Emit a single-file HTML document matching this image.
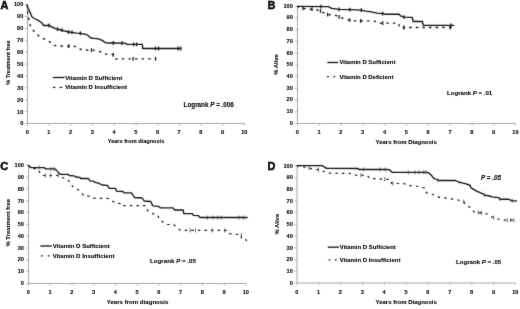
<!DOCTYPE html>
<html><head><meta charset="utf-8"><style>
html,body{margin:0;padding:0;background:#fff;width:520px;height:309px;overflow:hidden}
svg{display:block}
text{font-family:"Liberation Sans",sans-serif;font-weight:bold;fill:#161616}
</style></head><body>
<svg width="520" height="309" viewBox="0 0 520 309">
<defs>
<filter id="bl" x="0" y="0" width="520" height="309" filterUnits="userSpaceOnUse" color-interpolation-filters="sRGB"><feConvolveMatrix order="3" kernelMatrix="0.0113 0.0838 0.0113 0.0838 0.6193 0.0838 0.0113 0.0838 0.0113" edgeMode="duplicate"/></filter>
<filter id="tx" x="0" y="0" width="520" height="309" filterUnits="userSpaceOnUse" color-interpolation-filters="sRGB"><feConvolveMatrix order="3" kernelMatrix="0.0016 0.0371 0.0016 0.0371 0.8450 0.0371 0.0016 0.0371 0.0016" edgeMode="none" preserveAlpha="false"/><feComponentTransfer><feFuncA type="gamma" amplitude="1" exponent="0.75" offset="0"/></feComponentTransfer></filter>
</defs>
<g filter="url(#bl)">
<rect width="520" height="309" fill="#fff"/>
<path d="M27.5 4.1V123.5H244.6" fill="none" stroke="#a6a6a6" stroke-width="1"/>
<path d="M25.0 123.50H27.5" stroke="#a6a6a6" stroke-width="0.8"/>
<path d="M27.50 123.5V125.7" stroke="#a6a6a6" stroke-width="0.8"/>
<path d="M25.0 111.61H27.5" stroke="#a6a6a6" stroke-width="0.8"/>
<path d="M49.21 123.5V125.7" stroke="#a6a6a6" stroke-width="0.8"/>
<path d="M25.0 99.72H27.5" stroke="#a6a6a6" stroke-width="0.8"/>
<path d="M70.92 123.5V125.7" stroke="#a6a6a6" stroke-width="0.8"/>
<path d="M25.0 87.83H27.5" stroke="#a6a6a6" stroke-width="0.8"/>
<path d="M92.63 123.5V125.7" stroke="#a6a6a6" stroke-width="0.8"/>
<path d="M25.0 75.94H27.5" stroke="#a6a6a6" stroke-width="0.8"/>
<path d="M114.34 123.5V125.7" stroke="#a6a6a6" stroke-width="0.8"/>
<path d="M25.0 64.05H27.5" stroke="#a6a6a6" stroke-width="0.8"/>
<path d="M136.05 123.5V125.7" stroke="#a6a6a6" stroke-width="0.8"/>
<path d="M25.0 52.16H27.5" stroke="#a6a6a6" stroke-width="0.8"/>
<path d="M157.76 123.5V125.7" stroke="#a6a6a6" stroke-width="0.8"/>
<path d="M25.0 40.27H27.5" stroke="#a6a6a6" stroke-width="0.8"/>
<path d="M179.47 123.5V125.7" stroke="#a6a6a6" stroke-width="0.8"/>
<path d="M25.0 28.38H27.5" stroke="#a6a6a6" stroke-width="0.8"/>
<path d="M201.18 123.5V125.7" stroke="#a6a6a6" stroke-width="0.8"/>
<path d="M25.0 16.49H27.5" stroke="#a6a6a6" stroke-width="0.8"/>
<path d="M222.89 123.5V125.7" stroke="#a6a6a6" stroke-width="0.8"/>
<path d="M25.0 4.60H27.5" stroke="#a6a6a6" stroke-width="0.8"/>
<path d="M244.60 123.5V125.7" stroke="#a6a6a6" stroke-width="0.8"/>
<path d="M297.5 5.8V123.5H515.7" fill="none" stroke="#a6a6a6" stroke-width="1"/>
<path d="M295.0 123.50H297.5" stroke="#a6a6a6" stroke-width="0.8"/>
<path d="M297.50 123.5V125.7" stroke="#a6a6a6" stroke-width="0.8"/>
<path d="M295.0 111.78H297.5" stroke="#a6a6a6" stroke-width="0.8"/>
<path d="M319.32 123.5V125.7" stroke="#a6a6a6" stroke-width="0.8"/>
<path d="M295.0 100.06H297.5" stroke="#a6a6a6" stroke-width="0.8"/>
<path d="M341.14 123.5V125.7" stroke="#a6a6a6" stroke-width="0.8"/>
<path d="M295.0 88.34H297.5" stroke="#a6a6a6" stroke-width="0.8"/>
<path d="M362.96 123.5V125.7" stroke="#a6a6a6" stroke-width="0.8"/>
<path d="M295.0 76.62H297.5" stroke="#a6a6a6" stroke-width="0.8"/>
<path d="M384.78 123.5V125.7" stroke="#a6a6a6" stroke-width="0.8"/>
<path d="M295.0 64.90H297.5" stroke="#a6a6a6" stroke-width="0.8"/>
<path d="M406.60 123.5V125.7" stroke="#a6a6a6" stroke-width="0.8"/>
<path d="M295.0 53.18H297.5" stroke="#a6a6a6" stroke-width="0.8"/>
<path d="M428.42 123.5V125.7" stroke="#a6a6a6" stroke-width="0.8"/>
<path d="M295.0 41.46H297.5" stroke="#a6a6a6" stroke-width="0.8"/>
<path d="M450.24 123.5V125.7" stroke="#a6a6a6" stroke-width="0.8"/>
<path d="M295.0 29.74H297.5" stroke="#a6a6a6" stroke-width="0.8"/>
<path d="M472.06 123.5V125.7" stroke="#a6a6a6" stroke-width="0.8"/>
<path d="M295.0 18.02H297.5" stroke="#a6a6a6" stroke-width="0.8"/>
<path d="M493.88 123.5V125.7" stroke="#a6a6a6" stroke-width="0.8"/>
<path d="M295.0 6.30H297.5" stroke="#a6a6a6" stroke-width="0.8"/>
<path d="M515.70 123.5V125.7" stroke="#a6a6a6" stroke-width="0.8"/>
<path d="M28.5 164.8V283.5H246.1" fill="none" stroke="#a6a6a6" stroke-width="1"/>
<path d="M26.0 283.50H28.5" stroke="#a6a6a6" stroke-width="0.8"/>
<path d="M28.50 283.5V285.7" stroke="#a6a6a6" stroke-width="0.8"/>
<path d="M26.0 271.68H28.5" stroke="#a6a6a6" stroke-width="0.8"/>
<path d="M50.26 283.5V285.7" stroke="#a6a6a6" stroke-width="0.8"/>
<path d="M26.0 259.86H28.5" stroke="#a6a6a6" stroke-width="0.8"/>
<path d="M72.02 283.5V285.7" stroke="#a6a6a6" stroke-width="0.8"/>
<path d="M26.0 248.04H28.5" stroke="#a6a6a6" stroke-width="0.8"/>
<path d="M93.78 283.5V285.7" stroke="#a6a6a6" stroke-width="0.8"/>
<path d="M26.0 236.22H28.5" stroke="#a6a6a6" stroke-width="0.8"/>
<path d="M115.54 283.5V285.7" stroke="#a6a6a6" stroke-width="0.8"/>
<path d="M26.0 224.40H28.5" stroke="#a6a6a6" stroke-width="0.8"/>
<path d="M137.30 283.5V285.7" stroke="#a6a6a6" stroke-width="0.8"/>
<path d="M26.0 212.58H28.5" stroke="#a6a6a6" stroke-width="0.8"/>
<path d="M159.06 283.5V285.7" stroke="#a6a6a6" stroke-width="0.8"/>
<path d="M26.0 200.76H28.5" stroke="#a6a6a6" stroke-width="0.8"/>
<path d="M180.82 283.5V285.7" stroke="#a6a6a6" stroke-width="0.8"/>
<path d="M26.0 188.94H28.5" stroke="#a6a6a6" stroke-width="0.8"/>
<path d="M202.58 283.5V285.7" stroke="#a6a6a6" stroke-width="0.8"/>
<path d="M26.0 177.12H28.5" stroke="#a6a6a6" stroke-width="0.8"/>
<path d="M224.34 283.5V285.7" stroke="#a6a6a6" stroke-width="0.8"/>
<path d="M26.0 165.30H28.5" stroke="#a6a6a6" stroke-width="0.8"/>
<path d="M246.10 283.5V285.7" stroke="#a6a6a6" stroke-width="0.8"/>
<path d="M297.0 165.2V283.0H515.6" fill="none" stroke="#a6a6a6" stroke-width="1"/>
<path d="M294.5 283.00H297.0" stroke="#a6a6a6" stroke-width="0.8"/>
<path d="M297.00 283.0V285.2" stroke="#a6a6a6" stroke-width="0.8"/>
<path d="M294.5 271.27H297.0" stroke="#a6a6a6" stroke-width="0.8"/>
<path d="M318.86 283.0V285.2" stroke="#a6a6a6" stroke-width="0.8"/>
<path d="M294.5 259.54H297.0" stroke="#a6a6a6" stroke-width="0.8"/>
<path d="M340.72 283.0V285.2" stroke="#a6a6a6" stroke-width="0.8"/>
<path d="M294.5 247.81H297.0" stroke="#a6a6a6" stroke-width="0.8"/>
<path d="M362.58 283.0V285.2" stroke="#a6a6a6" stroke-width="0.8"/>
<path d="M294.5 236.08H297.0" stroke="#a6a6a6" stroke-width="0.8"/>
<path d="M384.44 283.0V285.2" stroke="#a6a6a6" stroke-width="0.8"/>
<path d="M294.5 224.35H297.0" stroke="#a6a6a6" stroke-width="0.8"/>
<path d="M406.30 283.0V285.2" stroke="#a6a6a6" stroke-width="0.8"/>
<path d="M294.5 212.62H297.0" stroke="#a6a6a6" stroke-width="0.8"/>
<path d="M428.16 283.0V285.2" stroke="#a6a6a6" stroke-width="0.8"/>
<path d="M294.5 200.89H297.0" stroke="#a6a6a6" stroke-width="0.8"/>
<path d="M450.02 283.0V285.2" stroke="#a6a6a6" stroke-width="0.8"/>
<path d="M294.5 189.16H297.0" stroke="#a6a6a6" stroke-width="0.8"/>
<path d="M471.88 283.0V285.2" stroke="#a6a6a6" stroke-width="0.8"/>
<path d="M294.5 177.43H297.0" stroke="#a6a6a6" stroke-width="0.8"/>
<path d="M493.74 283.0V285.2" stroke="#a6a6a6" stroke-width="0.8"/>
<path d="M294.5 165.70H297.0" stroke="#a6a6a6" stroke-width="0.8"/>
<path d="M515.60 283.0V285.2" stroke="#a6a6a6" stroke-width="0.8"/>
<path d="M27.2 4.6 L28.0 8.1 L29.7 11.3 L31.3 15.4 L32.1 17.0 L35.3 19.0 L38.6 20.6 L40.0 21.5 L41.6 22.7 L43.6 25.5 L49.7 25.5 L52.1 27.1 L56.2 28.8 L61.1 30.0 L64.3 30.8 L68.3 32.0 L72.4 32.4 L76.4 33.2 L80.4 33.3 L86.9 34.7 L91.0 38.0 L94.2 38.4 L98.2 38.8 L102.3 40.4 L105.5 42.8 L112.0 43.0 L124.9 43.2 L127.1 44.4 L142.5 44.4 L142.6 48.5 L181.0 48.5" fill="none" stroke="#111" stroke-width="1.35" stroke-linejoin="round"/>
<path d="M49 23.60V27.40" stroke="#1a1a1a" stroke-width="1.3"/>
<path d="M57.5 27.22V31.02" stroke="#1a1a1a" stroke-width="1.3"/>
<path d="M62 28.33V32.12" stroke="#1a1a1a" stroke-width="1.3"/>
<path d="M68.5 30.12V33.92" stroke="#1a1a1a" stroke-width="1.3"/>
<path d="M72 30.46V34.26" stroke="#1a1a1a" stroke-width="1.3"/>
<path d="M80.4 31.40V35.20" stroke="#1a1a1a" stroke-width="1.3"/>
<path d="M113.3 41.12V44.92" stroke="#1a1a1a" stroke-width="1.3"/>
<path d="M122 41.26V45.06" stroke="#1a1a1a" stroke-width="1.3"/>
<path d="M133.7 42.50V46.30" stroke="#1a1a1a" stroke-width="1.3"/>
<path d="M136.6 42.50V46.30" stroke="#1a1a1a" stroke-width="1.3"/>
<path d="M155.5 46.60V50.40" stroke="#1a1a1a" stroke-width="1.3"/>
<path d="M158.6 46.60V50.40" stroke="#1a1a1a" stroke-width="1.3"/>
<path d="M178.3 46.60V50.40" stroke="#1a1a1a" stroke-width="1.3"/>
<path d="M180.9 46.60V50.40" stroke="#1a1a1a" stroke-width="1.3"/>
<path d="M27.2 4.6 L27.6 12.1 L28.5 17.4 L29.4 23.9 L31.8 27.8 L34.3 31.7 L37.7 35.0 L41.0 37.5 L44.9 39.4 L49.8 41.8 L52.2 44.3 L53.7 45.4 L59.0 46.0 L73.8 46.1 L76.9 47.2 L80.0 48.8 L81.9 49.9 L94.6 50.2 L100.9 52.0 L104.6 54.1 L111.8 54.1 L114.7 55.6 L115.5 58.8 L156.0 58.8" fill="none" stroke="#111" stroke-width="1.35" stroke-dasharray="2.4 4.2"/>
<path d="M68.8 44.17V47.97" stroke="#1a1a1a" stroke-width="1.3"/>
<path d="M91.5 48.23V52.03" stroke="#1a1a1a" stroke-width="1.3"/>
<path d="M113.2 52.92V56.72" stroke="#1a1a1a" stroke-width="1.3"/>
<path d="M133.1 56.90V60.70" stroke="#1a1a1a" stroke-width="1.3"/>
<path d="M155.6 56.90V60.70" stroke="#1a1a1a" stroke-width="1.3"/>
<path d="M297.0 6.3 L328.3 6.7 L331.7 8.3 L339.1 9.4 L349.8 9.7 L361.3 10.1 L365.2 11.2 L370.1 11.7 L376.9 13.1 L382.7 13.6 L385.0 14.2 L399.1 14.2 L400.5 15.9 L404.4 17.2 L412.2 17.4 L413.2 21.5 L422.4 21.5 L423.3 25.3 L454.3 25.3" fill="none" stroke="#111" stroke-width="1.35" stroke-linejoin="round"/>
<path d="M321 4.71V8.51" stroke="#1a1a1a" stroke-width="1.3"/>
<path d="M339.1 7.50V11.30" stroke="#1a1a1a" stroke-width="1.3"/>
<path d="M349.8 7.80V11.60" stroke="#1a1a1a" stroke-width="1.3"/>
<path d="M361.3 8.20V12.00" stroke="#1a1a1a" stroke-width="1.3"/>
<path d="M382.7 11.70V15.50" stroke="#1a1a1a" stroke-width="1.3"/>
<path d="M404 15.17V18.97" stroke="#1a1a1a" stroke-width="1.3"/>
<path d="M450.9 23.40V27.20" stroke="#1a1a1a" stroke-width="1.3"/>
<path d="M297.0 6.3 L301.4 8.1 L308.1 9.2 L314.2 9.2 L320.2 10.8 L323.6 12.8 L327.6 14.5 L335.0 15.1 L339.1 16.8 L343.8 18.8 L349.8 20.2 L355.9 20.9 L360.9 20.9 L374.0 20.9 L378.3 23.1 L398.6 23.1 L399.6 27.5 L452.5 27.5" fill="none" stroke="#111" stroke-width="1.35" stroke-dasharray="2.4 4.2"/>
<path d="M303 6.46V10.26" stroke="#1a1a1a" stroke-width="1.3"/>
<path d="M312 7.30V11.10" stroke="#1a1a1a" stroke-width="1.3"/>
<path d="M320.5 9.08V12.88" stroke="#1a1a1a" stroke-width="1.3"/>
<path d="M327.6 12.60V16.40" stroke="#1a1a1a" stroke-width="1.3"/>
<path d="M339.1 14.90V18.70" stroke="#1a1a1a" stroke-width="1.3"/>
<path d="M349.8 18.30V22.10" stroke="#1a1a1a" stroke-width="1.3"/>
<path d="M360.6 19.00V22.80" stroke="#1a1a1a" stroke-width="1.3"/>
<path d="M382.7 21.20V25.00" stroke="#1a1a1a" stroke-width="1.3"/>
<path d="M404 25.60V29.40" stroke="#1a1a1a" stroke-width="1.3"/>
<path d="M450.5 25.60V29.40" stroke="#1a1a1a" stroke-width="1.3"/>
<path d="M28.2 165.3 L30.4 167.3 L31.3 167.6 L44.0 167.6 L45.9 168.9 L55.1 168.9 L59.5 173.6 L61.0 174.4 L67.7 174.4 L69.2 175.5 L73.9 175.8 L75.8 177.0 L79.7 177.3 L80.7 178.5 L88.4 178.5 L89.9 180.9 L93.3 181.2 L95.2 182.4 L98.6 183.1 L102.0 185.0 L107.4 185.3 L109.3 188.4 L115.6 188.4 L116.6 191.2 L122.8 191.5 L124.2 192.8 L131.5 192.8 L134.4 197.5 L142.2 198.0 L144.1 201.0 L150.8 201.5 L152.7 205.8 L158.4 206.4 L160.3 207.8 L173.0 207.8 L174.7 210.0 L183.2 210.0 L183.8 213.6 L192.3 213.6 L193.4 215.3 L198.5 215.6 L199.7 217.5 L247.6 217.5" fill="none" stroke="#111" stroke-width="1.35" stroke-linejoin="round"/>
<path d="M39.2 165.60V169.60" stroke="#444" stroke-width="0.85"/>
<path d="M50.9 166.90V170.90" stroke="#444" stroke-width="0.85"/>
<path d="M54 166.90V170.90" stroke="#444" stroke-width="0.85"/>
<path d="M207.4 215.50V219.50" stroke="#444" stroke-width="0.85"/>
<path d="M213 215.50V219.50" stroke="#444" stroke-width="0.85"/>
<path d="M217.6 215.50V219.50" stroke="#444" stroke-width="0.85"/>
<path d="M221 215.50V219.50" stroke="#444" stroke-width="0.85"/>
<path d="M239.1 215.50V219.50" stroke="#444" stroke-width="0.85"/>
<path d="M243.6 215.50V219.50" stroke="#444" stroke-width="0.85"/>
<path d="M28.2 165.3 L31.8 168.7 L37.7 168.7 L38.6 170.7 L40.6 173.6 L42.0 175.5 L59.0 175.5 L62.0 177.5 L67.7 179.4 L70.2 183.3 L73.4 187.3 L77.8 189.4 L81.2 192.3 L84.1 196.2 L90.4 196.2 L94.3 198.4 L107.9 198.4 L111.9 200.9 L116.1 203.4 L121.9 203.6 L122.6 205.7 L145.8 205.7 L147.8 211.0 L152.6 213.6 L157.5 214.9 L159.4 219.1 L162.8 222.1 L166.8 224.5 L173.6 224.5 L177.0 227.4 L180.4 230.4 L227.3 230.4 L229.7 233.7 L236.2 234.3 L241.4 234.9 L241.4 238.2 L245.1 238.6 L247.5 242.2" fill="none" stroke="#111" stroke-width="1.2" stroke-dasharray="2.4 4.2"/>
<path d="M45.4 173.50V177.50" stroke="#444" stroke-width="0.85"/>
<path d="M50.6 173.50V177.50" stroke="#444" stroke-width="0.85"/>
<path d="M58.2 173.50V177.50" stroke="#444" stroke-width="0.85"/>
<path d="M190.1 228.40V232.40" stroke="#444" stroke-width="0.85"/>
<path d="M195.4 228.40V232.40" stroke="#444" stroke-width="0.85"/>
<path d="M212.2 228.40V232.40" stroke="#444" stroke-width="0.85"/>
<path d="M224.7 228.40V232.40" stroke="#444" stroke-width="0.85"/>
<path d="M241.4 232.90V236.90" stroke="#444" stroke-width="0.85"/>
<path d="M296.8 165.6 L322.2 165.6 L324.1 166.8 L326.6 168.3 L358.0 168.5 L358.9 169.5 L385.0 169.4 L389.5 169.7 L392.1 172.3 L427.7 172.3 L431.0 174.9 L433.6 178.1 L435.2 179.0 L438.8 180.5 L455.6 180.5 L458.5 182.0 L462.9 183.1 L466.2 183.9 L470.2 185.5 L471.0 187.9 L476.7 191.2 L482.3 193.6 L484.7 195.2 L489.6 196.0 L492.0 196.8 L498.5 197.6 L500.0 199.2 L508.2 199.2 L512.2 200.8 L517.0 200.8" fill="none" stroke="#111" stroke-width="1.35" stroke-linejoin="round"/>
<path d="M363.5 167.48V171.48" stroke="#444" stroke-width="0.85"/>
<path d="M380 167.42V171.42" stroke="#444" stroke-width="0.85"/>
<path d="M385.4 167.43V171.43" stroke="#444" stroke-width="0.85"/>
<path d="M408.3 170.30V174.30" stroke="#444" stroke-width="0.85"/>
<path d="M415 170.30V174.30" stroke="#444" stroke-width="0.85"/>
<path d="M419 170.30V174.30" stroke="#444" stroke-width="0.85"/>
<path d="M423.7 170.30V174.30" stroke="#444" stroke-width="0.85"/>
<path d="M425.8 170.30V174.30" stroke="#444" stroke-width="0.85"/>
<path d="M437.9 178.12V182.12" stroke="#444" stroke-width="0.85"/>
<path d="M484.7 193.20V197.20" stroke="#444" stroke-width="0.85"/>
<path d="M500 197.20V201.20" stroke="#444" stroke-width="0.85"/>
<path d="M512.2 198.80V202.80" stroke="#444" stroke-width="0.85"/>
<path d="M296.8 165.6 L301.8 166.6 L308.6 167.8 L313.4 169.2 L318.3 169.7 L324.1 171.5 L329.0 173.1 L351.7 173.5 L354.6 175.1 L367.2 175.3 L369.6 178.4 L390.2 179.5 L391.5 183.4 L404.4 183.6 L407.7 185.5 L414.8 185.8 L420.0 186.9 L425.2 188.2 L426.5 192.9 L432.3 194.2 L439.6 197.4 L448.3 198.4 L458.0 200.0 L463.7 201.7 L466.2 204.9 L471.0 208.1 L474.2 212.2 L483.9 213.0 L488.8 214.6 L492.0 217.0 L496.8 218.6 L501.7 220.2 L516.5 220.2" fill="none" stroke="#111" stroke-width="1.2" stroke-dasharray="2.4 4.2"/>
<path d="M309 165.92V169.92" stroke="#444" stroke-width="0.85"/>
<path d="M318.5 167.76V171.76" stroke="#444" stroke-width="0.85"/>
<path d="M360.9 173.20V177.20" stroke="#444" stroke-width="0.85"/>
<path d="M384.7 177.21V181.21" stroke="#444" stroke-width="0.85"/>
<path d="M392.8 181.42V185.42" stroke="#444" stroke-width="0.85"/>
<path d="M463.7 199.70V203.70" stroke="#444" stroke-width="0.85"/>
<path d="M478.3 210.54V214.54" stroke="#444" stroke-width="0.85"/>
<path d="M481.5 210.80V214.80" stroke="#444" stroke-width="0.85"/>
<path d="M493.6 215.53V219.53" stroke="#444" stroke-width="0.85"/>
<path d="M507.4 218.20V222.20" stroke="#444" stroke-width="0.85"/>
<path d="M510.6 218.20V222.20" stroke="#444" stroke-width="0.85"/>
<path d="M513.8 218.20V222.20" stroke="#444" stroke-width="0.85"/>
<path d="M52.8 77.5H64.6" stroke="#111" stroke-width="1.3"/>
<path d="M53 87.4H64.6" stroke="#111" stroke-width="1.2" stroke-dasharray="2.4 4.3"/>
<path d="M327.3 62.5H338" stroke="#111" stroke-width="1.3"/>
<path d="M327.0 76.6H338" stroke="#111" stroke-width="1.2" stroke-dasharray="1.8 4.6"/>
<path d="M40.3 246H51.8" stroke="#111" stroke-width="1.3"/>
<path d="M41.0 255.8H51.8" stroke="#111" stroke-width="1.2" stroke-dasharray="1.7 5.1"/>
<path d="M327.8 247.2H339" stroke="#111" stroke-width="1.3"/>
<path d="M328.6 259.8H339" stroke="#111" stroke-width="1.2" stroke-dasharray="1.7 4.6"/>
</g>
<g filter="url(#tx)">
<text x="23.30" y="125.40" font-size="5.6" text-anchor="end" >0</text>
<text x="27.20" y="134.00" font-size="5.6" text-anchor="middle" >0</text>
<text x="23.30" y="113.50" font-size="5.6" text-anchor="end" >10</text>
<text x="48.91" y="134.00" font-size="5.6" text-anchor="middle" >1</text>
<text x="23.30" y="101.60" font-size="5.6" text-anchor="end" >20</text>
<text x="70.62" y="134.00" font-size="5.6" text-anchor="middle" >2</text>
<text x="23.30" y="89.70" font-size="5.6" text-anchor="end" >30</text>
<text x="92.33" y="134.00" font-size="5.6" text-anchor="middle" >3</text>
<text x="23.30" y="77.80" font-size="5.6" text-anchor="end" >40</text>
<text x="114.04" y="134.00" font-size="5.6" text-anchor="middle" >4</text>
<text x="23.30" y="65.90" font-size="5.6" text-anchor="end" >50</text>
<text x="135.75" y="134.00" font-size="5.6" text-anchor="middle" >5</text>
<text x="23.30" y="54.00" font-size="5.6" text-anchor="end" >60</text>
<text x="157.46" y="134.00" font-size="5.6" text-anchor="middle" >6</text>
<text x="23.30" y="42.10" font-size="5.6" text-anchor="end" >70</text>
<text x="179.17" y="134.00" font-size="5.6" text-anchor="middle" >7</text>
<text x="23.30" y="30.20" font-size="5.6" text-anchor="end" >80</text>
<text x="200.88" y="134.00" font-size="5.6" text-anchor="middle" >8</text>
<text x="23.30" y="18.30" font-size="5.6" text-anchor="end" >90</text>
<text x="222.59" y="134.00" font-size="5.6" text-anchor="middle" >9</text>
<text x="23.30" y="6.40" font-size="5.6" text-anchor="end" >100</text>
<text x="244.30" y="134.00" font-size="5.6" text-anchor="middle" >10</text>
<text x="292.80" y="124.60" font-size="5.6" text-anchor="end" >0</text>
<text x="297.20" y="134.00" font-size="5.6" text-anchor="middle" >0</text>
<text x="292.80" y="112.92" font-size="5.6" text-anchor="end" >10</text>
<text x="319.02" y="134.00" font-size="5.6" text-anchor="middle" >1</text>
<text x="292.80" y="101.24" font-size="5.6" text-anchor="end" >20</text>
<text x="340.84" y="134.00" font-size="5.6" text-anchor="middle" >2</text>
<text x="292.80" y="89.56" font-size="5.6" text-anchor="end" >30</text>
<text x="362.66" y="134.00" font-size="5.6" text-anchor="middle" >3</text>
<text x="292.80" y="77.88" font-size="5.6" text-anchor="end" >40</text>
<text x="384.48" y="134.00" font-size="5.6" text-anchor="middle" >4</text>
<text x="292.80" y="66.20" font-size="5.6" text-anchor="end" >50</text>
<text x="406.30" y="134.00" font-size="5.6" text-anchor="middle" >5</text>
<text x="292.80" y="54.52" font-size="5.6" text-anchor="end" >60</text>
<text x="428.12" y="134.00" font-size="5.6" text-anchor="middle" >6</text>
<text x="292.80" y="42.84" font-size="5.6" text-anchor="end" >70</text>
<text x="449.94" y="134.00" font-size="5.6" text-anchor="middle" >7</text>
<text x="292.80" y="31.16" font-size="5.6" text-anchor="end" >80</text>
<text x="471.76" y="134.00" font-size="5.6" text-anchor="middle" >8</text>
<text x="292.80" y="19.48" font-size="5.6" text-anchor="end" >90</text>
<text x="493.58" y="134.00" font-size="5.6" text-anchor="middle" >9</text>
<text x="292.80" y="7.80" font-size="5.6" text-anchor="end" >100</text>
<text x="515.40" y="134.00" font-size="5.6" text-anchor="middle" >10</text>
<text x="23.90" y="284.90" font-size="5.6" text-anchor="end" >0</text>
<text x="28.20" y="294.00" font-size="5.6" text-anchor="middle" >0</text>
<text x="23.90" y="273.14" font-size="5.6" text-anchor="end" >10</text>
<text x="49.96" y="294.00" font-size="5.6" text-anchor="middle" >1</text>
<text x="23.90" y="261.38" font-size="5.6" text-anchor="end" >20</text>
<text x="71.72" y="294.00" font-size="5.6" text-anchor="middle" >2</text>
<text x="23.90" y="249.62" font-size="5.6" text-anchor="end" >30</text>
<text x="93.48" y="294.00" font-size="5.6" text-anchor="middle" >3</text>
<text x="23.90" y="237.86" font-size="5.6" text-anchor="end" >40</text>
<text x="115.24" y="294.00" font-size="5.6" text-anchor="middle" >4</text>
<text x="23.90" y="226.10" font-size="5.6" text-anchor="end" >50</text>
<text x="137.00" y="294.00" font-size="5.6" text-anchor="middle" >5</text>
<text x="23.90" y="214.34" font-size="5.6" text-anchor="end" >60</text>
<text x="158.76" y="294.00" font-size="5.6" text-anchor="middle" >6</text>
<text x="23.90" y="202.58" font-size="5.6" text-anchor="end" >70</text>
<text x="180.52" y="294.00" font-size="5.6" text-anchor="middle" >7</text>
<text x="23.90" y="190.82" font-size="5.6" text-anchor="end" >80</text>
<text x="202.28" y="294.00" font-size="5.6" text-anchor="middle" >8</text>
<text x="23.90" y="179.06" font-size="5.6" text-anchor="end" >90</text>
<text x="224.04" y="294.00" font-size="5.6" text-anchor="middle" >9</text>
<text x="23.90" y="167.30" font-size="5.6" text-anchor="end" >100</text>
<text x="245.80" y="294.00" font-size="5.6" text-anchor="middle" >10</text>
<text x="292.80" y="284.60" font-size="5.6" text-anchor="end" >0</text>
<text x="296.70" y="293.50" font-size="5.6" text-anchor="middle" >0</text>
<text x="292.80" y="272.91" font-size="5.6" text-anchor="end" >10</text>
<text x="318.56" y="293.50" font-size="5.6" text-anchor="middle" >1</text>
<text x="292.80" y="261.22" font-size="5.6" text-anchor="end" >20</text>
<text x="340.42" y="293.50" font-size="5.6" text-anchor="middle" >2</text>
<text x="292.80" y="249.53" font-size="5.6" text-anchor="end" >30</text>
<text x="362.28" y="293.50" font-size="5.6" text-anchor="middle" >3</text>
<text x="292.80" y="237.84" font-size="5.6" text-anchor="end" >40</text>
<text x="384.14" y="293.50" font-size="5.6" text-anchor="middle" >4</text>
<text x="292.80" y="226.15" font-size="5.6" text-anchor="end" >50</text>
<text x="406.00" y="293.50" font-size="5.6" text-anchor="middle" >5</text>
<text x="292.80" y="214.46" font-size="5.6" text-anchor="end" >60</text>
<text x="427.86" y="293.50" font-size="5.6" text-anchor="middle" >6</text>
<text x="292.80" y="202.77" font-size="5.6" text-anchor="end" >70</text>
<text x="449.72" y="293.50" font-size="5.6" text-anchor="middle" >7</text>
<text x="292.80" y="191.08" font-size="5.6" text-anchor="end" >80</text>
<text x="471.58" y="293.50" font-size="5.6" text-anchor="middle" >8</text>
<text x="292.80" y="179.39" font-size="5.6" text-anchor="end" >90</text>
<text x="493.44" y="293.50" font-size="5.6" text-anchor="middle" >9</text>
<text x="292.80" y="167.70" font-size="5.6" text-anchor="end" >100</text>
<text x="515.30" y="293.50" font-size="5.6" text-anchor="middle" >10</text>
<text x="0.40" y="8.80" font-size="10.8" text-anchor="start" stroke="#161616" stroke-width="0.45">A</text>
<text x="267.80" y="8.50" font-size="10.4" text-anchor="start" stroke="#161616" stroke-width="0.45">B</text>
<text x="0.30" y="169.60" font-size="11" text-anchor="start" stroke="#161616" stroke-width="0.45">C</text>
<text x="267.50" y="169.80" font-size="10.8" text-anchor="start" stroke="#161616" stroke-width="0.45">D</text>
<text x="0" y="0" font-size="5.5" text-anchor="middle" transform="translate(10.4,62.6) rotate(-90)">% Treatment free</text>
<text x="0" y="0" font-size="5.8" text-anchor="middle" transform="translate(278.4,64.5) rotate(-90)">% Alive</text>
<text x="0" y="0" font-size="5.9" text-anchor="middle" transform="translate(10.4,222.8) rotate(-90)">% Treatment free</text>
<text x="0" y="0" font-size="5.9" text-anchor="middle" transform="translate(278.6,224.2) rotate(-90)">% Alive</text>
<text x="136.00" y="142.90" font-size="5.6" text-anchor="middle" >Years from diagnosis</text>
<text x="406.20" y="143.70" font-size="6.0" text-anchor="middle" >Years from Diagnosis</text>
<text x="137.50" y="303.90" font-size="6.1" text-anchor="middle" >Years from diagnosis</text>
<text x="406.20" y="303.70" font-size="6.0" text-anchor="middle" >Years from Diagnosis</text>
<text x="65.20" y="79.80" font-size="6.05" text-anchor="start" >Vitamin D Sufficient</text>
<text x="65.20" y="89.40" font-size="6.05" text-anchor="start" >Vitamin D Insufficient</text>
<text x="339.40" y="64.30" font-size="5.95" text-anchor="start" >Vitamin D Sufficient</text>
<text x="339.40" y="78.90" font-size="5.95" text-anchor="start" >Vitamin D Deficient</text>
<text x="52.70" y="247.80" font-size="6.05" text-anchor="start" >Vitamin D Sufficient</text>
<text x="52.70" y="257.80" font-size="6.05" text-anchor="start" >Vitamin D Insufficient</text>
<text x="339.80" y="249.10" font-size="5.95" text-anchor="start" >Vitamin D Sufficient</text>
<text x="339.80" y="262.00" font-size="5.95" text-anchor="start" >Vitamin D Insufficient</text>
<text x="183.6" y="107.2" font-size="6.3">Logrank <tspan font-style="italic">P</tspan> = .006</text>
<text x="447" y="94.9" font-size="6.1">Logrank <tspan font-style="italic">P</tspan> = .01</text>
<text x="150" y="263.3" font-size="6.2">Logrank <tspan font-style="italic">P</tspan> = .05</text>
<text x="456" y="263.9" font-size="6.1">Logrank <tspan font-style="italic">P</tspan> = .05</text>
<text x="481.0" y="179.9" font-size="6.3" font-style="italic">P = .05</text>
</g>
</svg>
</body></html>
